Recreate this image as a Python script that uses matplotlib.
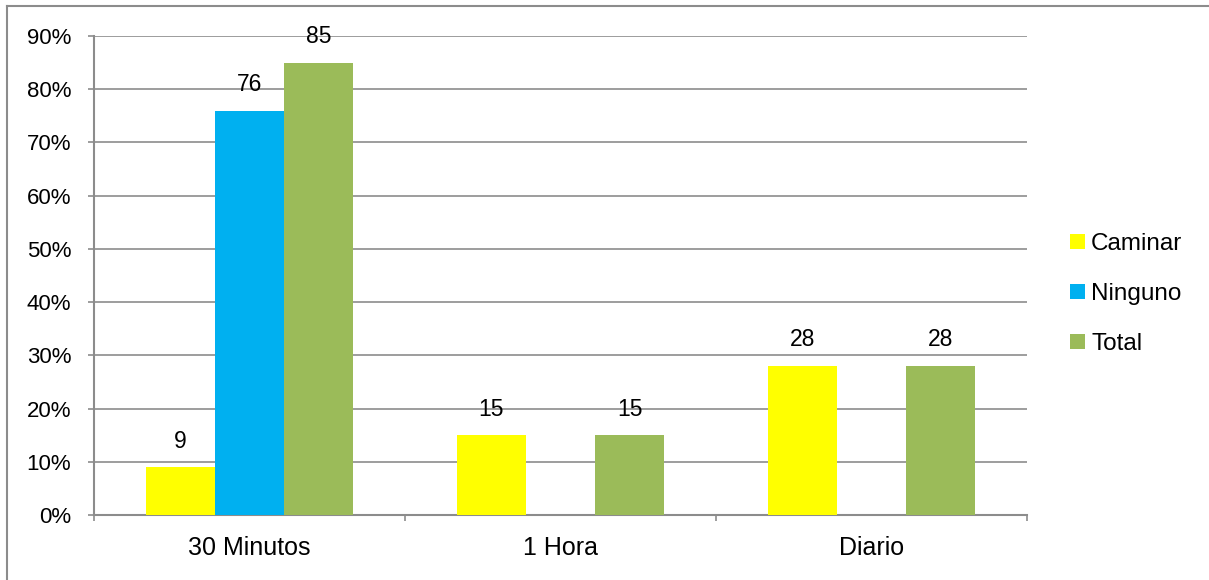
import numpy as np
import matplotlib
matplotlib.use('Agg')
import matplotlib.pyplot as plt
from matplotlib.lines import Line2D

# Data
categories = ['30 Minutos', '1 Hora', 'Diario']
series_names = ['Caminar', 'Ninguno', 'Total']
caminar = [9, 15, 28]
ninguno = [76, np.nan, np.nan]
total = [85, 15, 28]
colors = ['#FFFF00', '#00B0F0', '#9BBB59']
y_ticks = [0, 10, 20, 30, 40, 50, 60, 70, 80, 90]

plt.rcParams['font.family'] = ['Liberation Sans', 'DejaVu Sans']
grid_col = '#8C8C8C'
fs = 16

fig = plt.figure(figsize=(12.09, 5.8), dpi=100)
ax = fig.add_axes([94 / 1209, 1 - 515 / 580, (1027 - 94) / 1209, (515 - 36) / 580])

x = np.arange(len(categories))
width = 0.222
offsets = [-width, 0, width]
for vals, off, col, name in zip([caminar, ninguno, total], offsets, colors, series_names):
    b = ax.bar(x + off, vals, width, color=col, label=name, zorder=3)
    labels = ['' if np.isnan(v) else f'{v:g}' for v in vals]
    ax.bar_label(b, labels=labels, padding=10.5, fontsize=16.5, zorder=4)

ax.set_xlim(-0.5, 2.5)
ax.set_ylim(0, 90)
ax.set_yticks(y_ticks)
ax.set_yticklabels([f'{t}%' for t in y_ticks], fontsize=fs)
ax.set_xticks(x)
ax.set_xticklabels(categories, fontsize=18)
ax.set_xticks(np.arange(-0.5, len(categories)), minor=True)
ax.tick_params(axis='x', which='major', length=0, pad=15)
ax.tick_params(axis='x', which='minor', length=4.3, width=1.2, color=grid_col)
ax.tick_params(axis='y', length=4.3, width=1.2, color=grid_col, pad=12)

ax.grid(axis='y', color=grid_col, linewidth=1.2, zorder=0)
ax.set_axisbelow(True)
for s in ['top', 'right']:
    ax.spines[s].set_visible(False)
for s in ['left', 'bottom']:
    ax.spines[s].set_color(grid_col)
    ax.spines[s].set_linewidth(1.5)

leg = fig.legend(loc='center left', bbox_to_anchor=(1070 / 1209, 1 - 294 / 580),
                 frameon=False, fontsize=17.5, handlelength=0.62, handleheight=0.62,
                 handletextpad=0.25, labelspacing=1.15, borderpad=0, borderaxespad=0)

# outer chart border (only top and left fall inside the image)
fig.add_artist(Line2D([7 / 1209, 1], [1 - 6 / 580, 1 - 6 / 580], color=grid_col, linewidth=1.5))
fig.add_artist(Line2D([7 / 1209, 7 / 1209], [0, 1 - 6 / 580], color=grid_col, linewidth=1.5))

fig.savefig('out.png', dpi=100)
